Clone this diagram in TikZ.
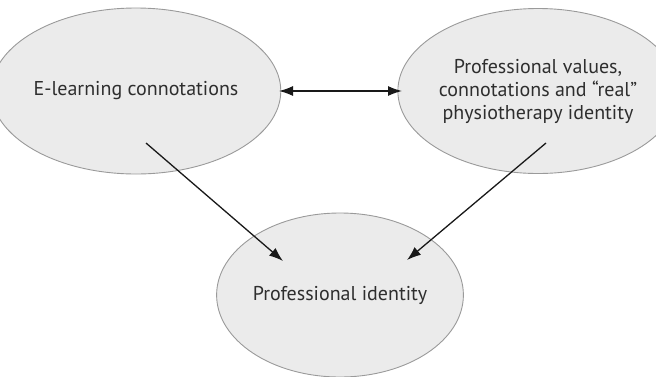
\documentclass[tikz,border=0pt]{standalone}
\usepackage{fontspec}
\setmainfont{PT Sans}
\usetikzlibrary{shapes.geometric,arrows.meta}
\definecolor{ellfill}{HTML}{EBEBEB}
\definecolor{elldraw}{HTML}{9A9A9A}
\definecolor{txt}{HTML}{2E2E2E}
\tikzset{
  ell/.style={ellipse, fill=ellfill, draw=elldraw, line width=0.9pt, inner sep=0pt,
    text=txt, font=\fontsize{20}{23}\selectfont, align=center},
  conn/.style={line width=1.3pt, draw=black!90, -{Latex[length=14pt,width=10pt]}},
  dconn/.style={line width=1.3pt, draw=black!90, {Latex[length=14pt,width=10pt]}-{Latex[length=14pt,width=10pt]}}
}
\begin{document}
\begin{tikzpicture}[x=1pt,y=-1pt]
\useasboundingbox (0,0) rectangle (656,376);
\node[ell, minimum width=246pt, minimum height=166pt] (L) at (136,91) {E-learning connotations};
\node[ell, minimum width=234pt, minimum height=165pt] (R) at (538,91) {Professional values,\\connotations and “real”\\physiotherapy identity};
\node[ell, minimum width=246pt, minimum height=164pt] (B) at (340,295) {Professional identity};
\coordinate (da) at (279,91);
\coordinate (db) at (402,91);
\coordinate (ls) at (146,143);
\coordinate (le) at (283,261);
\coordinate (rs) at (546,143);
\coordinate (re) at (407,260);
\draw[dconn] (da) -- (db);
\draw[conn] (ls) -- (le);
\draw[conn] (rs) -- (re);
\end{tikzpicture}
\end{document}
